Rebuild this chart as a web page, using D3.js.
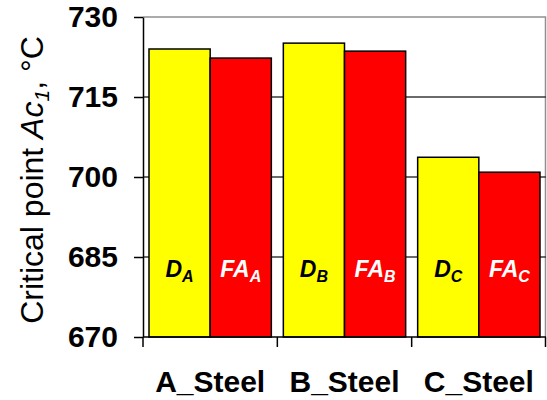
<!DOCTYPE html>
<html>
<head>
<meta charset="utf-8">
<script src="https://cdn.jsdelivr.net/npm/d3@7"></script>
<style>
  html, body { margin: 0; padding: 0; background: #fff; }
  svg { display: block; font-family: "Liberation Sans", Arial, sans-serif; }
</style>
</head>
<body>
<svg id="chart" width="547" height="400"></svg>
<script>
// Steel grades on the x axis
const categories = ["A_Steel", "B_Steel", "C_Steel"];
// Two treatment series per steel
const seriesKeys = ["D", "FA"];
const dValues = [724.0, 725.1, 703.7];
const faValues = [722.3, 723.6, 700.9];
// Subscript letter for each steel in the in-bar labels
const subscripts = ["A", "B", "C"];
const yTicks = [670, 685, 700, 715, 730];

const colors = { D: "#ffff00", FA: "#ff0000" };
const labelColors = { D: "#000000", FA: "#ffffff" };

const svg = d3.select("#chart");
const margin = { left: 143, right: 1, top: 17, bottom: 63 };
const W = 547, H = 400;
const x0 = d3.scaleBand().domain(categories).range([margin.left, W - margin.right]).padding(0);
const x1 = d3.scaleBand().domain(seriesKeys).range([6, x0.bandwidth() - 6]).padding(0);
const y = d3.scaleLinear().domain([670, 730]).range([H - margin.bottom, margin.top]);

const rows = categories.map((c, i) => ({
  cat: c, sub: subscripts[i],
  vals: [{ key: "D", v: dValues[i] }, { key: "FA", v: faValues[i] }]
}));

// Plot frame (top and right edges)
svg.append("path")
  .attr("d", `M${margin.left},${y(730)}H${W - margin.right - 0.5}V${y(670)}`)
  .attr("fill", "none").attr("stroke", "#909090").attr("stroke-width", 1.5);

// Horizontal gridlines
svg.append("g").selectAll("line").data(yTicks.filter(t => t > 670 && t < 730)).join("line")
  .attr("x1", margin.left).attr("x2", W - margin.right)
  .attr("y1", d => y(d)).attr("y2", d => y(d))
  .attr("stroke", "#3a3a3a").attr("stroke-width", 1.5);

// Bars
const groups = svg.append("g").selectAll("g").data(rows).join("g")
  .attr("transform", d => `translate(${x0(d.cat)},0)`);

groups.selectAll("rect").data(d => d.vals).join("rect")
  .attr("x", d => x1(d.key))
  .attr("width", x1.bandwidth())
  .attr("y", d => y(d.v))
  .attr("height", d => y(670) - y(d.v))
  .attr("fill", d => colors[d.key])
  .attr("stroke", "#000").attr("stroke-width", 1.5);

// In-bar labels with subscripts
groups.each(function (row) {
  const g = d3.select(this);
  row.vals.forEach(d => {
    const t = g.append("text")
      .attr("x", x1(d.key) + x1.bandwidth() / 2)
      .attr("y", 277)
      .attr("text-anchor", "middle")
      .attr("font-weight", "bold").attr("font-style", "italic")
      .attr("fill", labelColors[d.key]);
    t.append("tspan").attr("font-size", 23).text(d.key);
    t.append("tspan").attr("font-size", 16).attr("dy", 5).text(row.sub);
  });
});

// Y axis
const yAxis = svg.append("g")
  .attr("transform", `translate(${margin.left},0)`)
  .call(d3.axisLeft(y).tickValues(yTicks).tickSize(9).tickPadding(16).tickSizeOuter(0));
yAxis.select(".domain").attr("stroke", "#000").attr("stroke-width", 1.5);
yAxis.selectAll(".tick line").attr("stroke", "#000").attr("stroke-width", 1.5);
yAxis.selectAll(".tick text")
  .attr("font-size", 30).attr("font-weight", "bold").attr("fill", "#000")
  .attr("font-family", "'Liberation Sans', Arial, sans-serif");

// X axis with ticks at category boundaries
const xg = svg.append("g").attr("transform", `translate(0,${y(670)})`);
xg.append("line").attr("x1", margin.left).attr("x2", W - margin.right)
  .attr("stroke", "#000").attr("stroke-width", 1.5);
const bounds = categories.map(c => x0(c)).concat([x0(categories[categories.length - 1]) + x0.bandwidth()]);
xg.selectAll(".bt").data(bounds).join("line")
  .attr("x1", d => Math.min(d, W - 1.5)).attr("x2", d => Math.min(d, W - 1.5))
  .attr("y1", 0).attr("y2", 10)
  .attr("stroke", "#000").attr("stroke-width", 1.5);
xg.selectAll("text").data(categories).join("text")
  .attr("x", d => x0(d) + x0.bandwidth() / 2)
  .attr("y", 55)
  .attr("text-anchor", "middle")
  .attr("font-size", 30).attr("font-weight", "bold")
  .text(d => d);

// Y axis title
const yt = svg.append("text")
  .attr("transform", "translate(43,180) rotate(-90)")
  .attr("text-anchor", "middle")
  .attr("font-size", 32).attr("fill", "#000");
yt.append("tspan").text("Critical point ");
yt.append("tspan").attr("font-style", "italic").text("Ac");
yt.append("tspan").attr("font-style", "italic").attr("font-size", 21).attr("dy", 6).text("1");
yt.append("tspan").attr("dy", -6).text(", °C");
</script>
</body>
</html>
